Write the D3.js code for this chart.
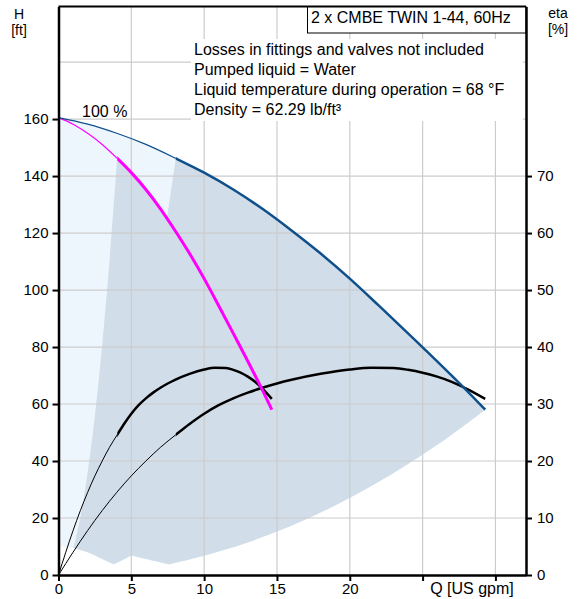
<!DOCTYPE html>
<html>
<head>
<meta charset="utf-8">
<script src="https://cdn.jsdelivr.net/npm/d3@7"></script>
<style>
  body { margin: 0; background: #fff; }
  svg text { font-family: "Liberation Sans", Arial, sans-serif; font-size: 16px; fill: #000; }
</style>
</head>
<body>
<div id="graph"></div>
<script>
// QH curve, both pumps in parallel (blue) and one pump (magenta)
const qTwin = [0, 2, 4, 6, 8.05, 10, 12, 14, 16, 18, 20, 22, 24, 25, 26, 27, 28, 29.3]
const hTwin = [160.5, 158.2, 155.0, 151.1, 146.2, 141.2, 135.3, 128.5, 120.9, 112.8, 104.0, 94.5, 84.8, 79.9, 75.0, 70.0, 64.9, 58.0]
const qSingle = [0, 1, 2, 3, 4.03, 5, 6, 7, 8, 9, 10, 11, 12, 12.5, 13, 13.5, 14, 14.65]
const hSingle = [160.5, 158.2, 155.0, 151.1, 146.2, 141.2, 135.3, 128.5, 120.9, 112.8, 104.0, 94.5, 84.8, 79.9, 75.0, 70.0, 64.9, 58.0]

// efficiency curves
const qEtaTwin = [0, 1, 2, 3, 4, 5, 6, 7, 8.05, 9, 10, 11, 12, 13, 14, 15, 16, 18, 20, 21.5, 23, 24, 25, 26, 27, 28, 29.3]
const etaTwin = [0, 4.0, 7.8, 11.3, 14.5, 17.4, 20.0, 22.4, 24.6, 26.5, 28.3, 29.8, 31.0, 32.0, 32.85, 33.6, 34.25, 35.3, 36.05, 36.35, 36.3, 36.0, 35.5, 34.8, 33.9, 32.7, 30.9]
const qEtaSingle = [0, 0.5, 1, 1.5, 2, 2.5, 3, 3.5, 4.03, 4.5, 5, 5.5, 6, 6.5, 7, 7.5, 8, 9, 10, 10.75, 11.5, 12, 12.5, 13, 13.5, 14, 14.65]
const etaSingle = [0, 4.0, 7.8, 11.3, 14.5, 17.4, 20.0, 22.4, 24.6, 26.5, 28.3, 29.8, 31.0, 32.0, 32.85, 33.6, 34.25, 35.3, 36.05, 36.35, 36.3, 36.0, 35.5, 34.8, 33.9, 32.7, 30.9]

// where the thick (allowed) part of each curve begins
const thickTwin = 8.05
const thickSingle = 4.03

// operating area borders [Q, H]
const singleLeftQ = [1.03, 1.5, 2, 2.5, 3, 3.5, 4.03]
const singleLeftH = [9.5, 20.2, 35.9, 56.1, 80.8, 110, 146.2]
const singleRightQ = [14.65, 13, 11, 9, 7, 5, 3.79]
const singleRightH = [58.0, 45.9, 32.8, 22.0, 13.3, 6.8, 3.7]
const singleMinQ = [3.79, 3, 2.07, 1.03]
const singleMinH = [3.7, 5.6, 7.8, 9.5]
const twinLeftQ = [2.06, 3, 4, 5, 6, 7, 8.05]
const twinLeftH = [9.5, 20.3, 36, 56.3, 81, 110.3, 146.2]
const twinRightQ = [29.3, 27, 25, 22, 19, 16, 13, 10, 7.59]
const twinRightH = [58.0, 49.2, 42.2, 32.7, 24.4, 17.3, 11.4, 6.75, 3.7]
const twinMinQ = [7.59, 6, 4.14, 2.06]
const twinMinH = [3.7, 5.6, 7.8, 9.5]
const lowQ = [1.03, 0]
const lowH = [9.5, 10.2]

const hTicks = [0, 20, 40, 60, 80, 100, 120, 140, 160]
const hGrid = [20, 40, 60, 80, 100, 120, 140, 160, 180]
const etaTicks = [0, 10, 20, 30, 40, 50, 60, 70]
const qTicks = [0, 5, 10, 15, 20, 25, 30]
const qLabels = [0, 5, 10, 15, 20]
const qGrid = [5, 10, 15, 20, 25, 30]

const infoLines = [
  'Losses in fittings and valves not included',
  'Pumped liquid = Water',
  'Liquid temperature during operation = 68 °F',
  'Density = 62.29 lb/ft³'
]

const width = 581; const height = 599
const plotLeft = 58.5; const plotRight = 526; const plotTop = 6.5; const plotBottom = 575

const x = d3.scaleLinear().domain([0, 32.1]).range([plotLeft, plotRight])
const y = d3.scaleLinear().domain([0, 199.5]).range([plotBottom, plotTop])
const yEta = d3.scaleLinear().domain([0, 99.75]).range([plotBottom, plotTop])

const svg = d3.select('#graph').append('svg')
  .attr('width', width).attr('height', height)

const zip = (qs, vs) => qs.map((q, i) => [q, vs[i]])

// path pieces joined into one closed shape
const piece = (pts, curve) => d3.line().x(d => x(d[0])).y(d => y(d[1])).curve(curve)(pts)
const join = (parts) => parts.map((p, i) => i === 0 ? p : p.replace(/^M/, 'L')).join('') + 'Z'

const twinPts = zip(qTwin, hTwin)
const singlePts = zip(qSingle, hSingle)

// clip regions for the thick part of the curves
const defs = svg.append('defs')
const addClip = (id, q0, q1) => defs.append('clipPath').attr('id', id)
  .append('rect').attr('x', x(q0)).attr('y', 0).attr('width', x(q1) - x(q0)).attr('height', height)
addClip('thin-twin', 0, thickTwin)
addClip('thick-twin', thickTwin, 32.1)
addClip('thin-single', 0, thickSingle)
addClip('thick-single', thickSingle, 32.1)

// light area (left of minimum flow)
svg.append('path')
  .attr('fill', '#eef6fd')
  .attr('d', join([
    piece(twinPts.filter(d => d[0] <= thickTwin), d3.curveMonotoneX),
    piece(zip(twinLeftQ, twinLeftH).reverse(), d3.curveCatmullRom),
    piece(zip(lowQ, lowH), d3.curveLinear)
  ]))

// operating areas
svg.append('path')
  .attr('fill', '#d1dde9')
  .attr('d', join([
    piece(zip(singleLeftQ, singleLeftH), d3.curveCatmullRom),
    piece(singlePts.filter(d => d[0] >= thickSingle), d3.curveMonotoneX),
    piece(zip(singleRightQ, singleRightH), d3.curveCatmullRom),
    piece(zip(singleMinQ, singleMinH), d3.curveCatmullRom)
  ]))

svg.append('path')
  .attr('fill', '#d1dde9')
  .attr('d', join([
    piece(zip(twinLeftQ, twinLeftH), d3.curveCatmullRom),
    piece(twinPts.filter(d => d[0] >= thickTwin), d3.curveMonotoneX),
    piece(zip(twinRightQ, twinRightH), d3.curveCatmullRom),
    piece(zip(twinMinQ, twinMinH), d3.curveCatmullRom)
  ]))

// grid
svg.append('g').selectAll('line')
  .data(hGrid).enter().append('line')
  .attr('x1', plotLeft).attr('x2', plotRight)
  .attr('y1', d => y(d)).attr('y2', d => y(d))
  .attr('stroke', '#cccccc').attr('stroke-width', 1.2)

svg.append('g').selectAll('line')
  .data(qGrid).enter().append('line')
  .attr('x1', d => x(d)).attr('x2', d => x(d))
  .attr('y1', plotTop).attr('y2', plotBottom)
  .attr('stroke', '#cccccc').attr('stroke-width', 1.2)

// curves, thin below min flow, thick above
const drawCurve = (pts, name, color, thin, thick, scaleY) => {
  const line = d3.line().x(d => x(d[0])).y(d => scaleY(d[1])).curve(d3.curveMonotoneX)
  svg.append('path').attr('d', line(pts)).attr('clip-path', 'url(#thin-' + name + ')')
    .attr('fill', 'none').attr('stroke', color).attr('stroke-width', thin)
  svg.append('path').attr('d', line(pts)).attr('clip-path', 'url(#thick-' + name + ')')
    .attr('fill', 'none').attr('stroke', color).attr('stroke-width', thick)
}

drawCurve(zip(qEtaSingle, etaSingle), 'single', '#000', 1, 2.5, yEta)
drawCurve(zip(qEtaTwin, etaTwin), 'twin', '#000', 1, 2.5, yEta)
drawCurve(singlePts, 'single', '#ff00ff', 1.2, 3, y)
drawCurve(twinPts, 'twin', '#0f4f8c', 1.2, 2.5, y)

// info text
svg.append('rect').attr('x', 191).attr('y', 39).attr('width', 332).attr('height', 82).attr('fill', '#fff')
svg.append('g').selectAll('text')
  .data(infoLines).enter().append('text')
  .attr('x', 194).attr('y', (d, i) => 55 + i * 20)
  .text(d => d)

svg.append('text').attr('x', 82).attr('y', 117).text('100 %')

// title box
svg.append('rect').attr('x', 307.5).attr('y', plotTop).attr('width', plotRight - 307.5).attr('height', 26.5)
  .attr('fill', '#fff').attr('stroke', '#000').attr('stroke-width', 1)
svg.append('text').attr('x', 311).attr('y', 23).text('2 x CMBE TWIN 1-44, 60Hz')

// axes
const styleAxis = (g) => {
  g.select('.domain').attr('stroke', '#000').attr('stroke-width', 2.5)
  g.selectAll('.tick line').attr('stroke', '#000').attr('stroke-width', 2)
  g.selectAll('.tick text').style('font-size', '15px').attr('fill', '#000')
}

svg.append('g')
  .attr('transform', 'translate(' + plotLeft + ',0)')
  .call(d3.axisLeft(y).tickValues(hTicks).tickSize(6).tickSizeOuter(0).tickPadding(4))
  .call(styleAxis)

svg.append('g')
  .attr('transform', 'translate(' + plotRight + ',0)')
  .call(d3.axisRight(yEta).tickValues(etaTicks).tickSize(6).tickSizeOuter(0).tickPadding(5))
  .call(styleAxis)

svg.append('g')
  .attr('transform', 'translate(0,' + plotBottom + ')')
  .call(d3.axisBottom(x).tickValues(qTicks).tickSize(6).tickSizeOuter(0).tickPadding(2)
    .tickFormat(d => qLabels.includes(d) ? d : ''))
  .call(styleAxis)

svg.append('line')
  .attr('x1', plotLeft).attr('x2', plotRight).attr('y1', plotTop).attr('y2', plotTop)
  .attr('stroke', '#000').attr('stroke-width', 2)

// axis titles
svg.append('text').attr('x', 472).attr('y', 594).attr('text-anchor', 'middle').text('Q [US gpm]')
const unitLabel = (tx, ty, s) => svg.append('text').attr('x', tx).attr('y', ty)
  .attr('text-anchor', 'middle').style('font-size', '14px').text(s)
unitLabel(19, 19, 'H')
unitLabel(19, 35, '[ft]')
unitLabel(558, 18, 'eta')
unitLabel(558, 34, '[%]')
</script>
</body>
</html>
